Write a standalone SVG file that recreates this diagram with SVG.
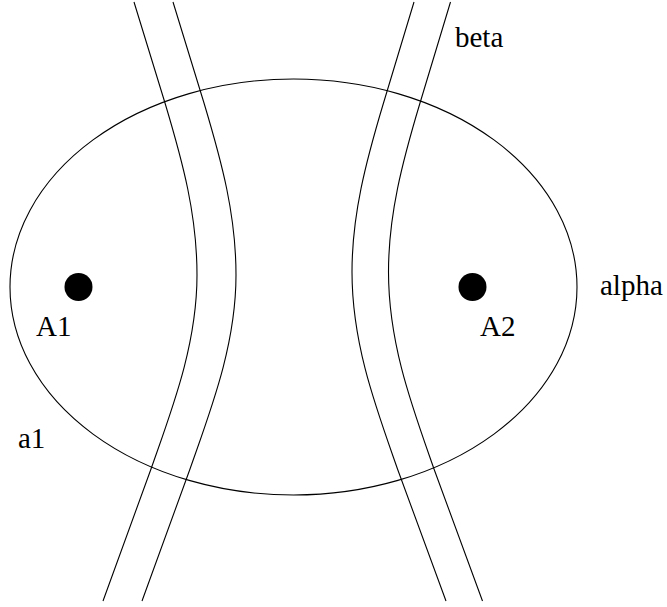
<svg xmlns="http://www.w3.org/2000/svg" width="667" height="607" viewBox="0 0 667 607">
<style>
.ln{fill:none;stroke:#000;stroke-width:1.1}
.dot{fill:#000}
.lbl{font-family:"Liberation Serif","Times New Roman",serif;font-size:29px;fill:#000}
</style>
<rect width="667" height="607" fill="#fff"/>
<g id="alpha">
<ellipse class="ln" cx="293.5" cy="287" rx="283.5" ry="208"/>
<text class="lbl" x="600" y="295">alpha</text>
</g>
<g id="A1">
<circle class="dot" cx="78.5" cy="287" r="14"/>
<text class="lbl" x="36" y="336">A1</text>
</g>
<g id="A2">
<circle class="dot" cx="472.5" cy="287" r="14"/>
<text class="lbl" x="480" y="336">A2</text>
</g>
<g id="a1">
<text class="lbl" x="18" y="448">a1</text>
</g>
<g id="beta">
<text class="lbl" x="455" y="47">beta</text>
</g>
<g id="connectors">
<path class="ln" d="M134,2 L165,103 C183,163 197,215 197,275 C197,345 172,409 151,469 L103,601"/>
<path class="ln" d="M173,2 L204,103 C222,163 236,215 236,275 C236,345 211,409 190,469 L142,601"/>
<path class="ln" d="M414,2 L383.5,103 C365.5,163 352,215 352,272 C352,345 376.5,409 397.5,469 L446,601"/>
<path class="ln" d="M450.5,2 L420,103 C402,163 388.5,215 388.5,272 C388.5,345 413,409 434,469 L482.5,601"/>
</g>
</svg>
